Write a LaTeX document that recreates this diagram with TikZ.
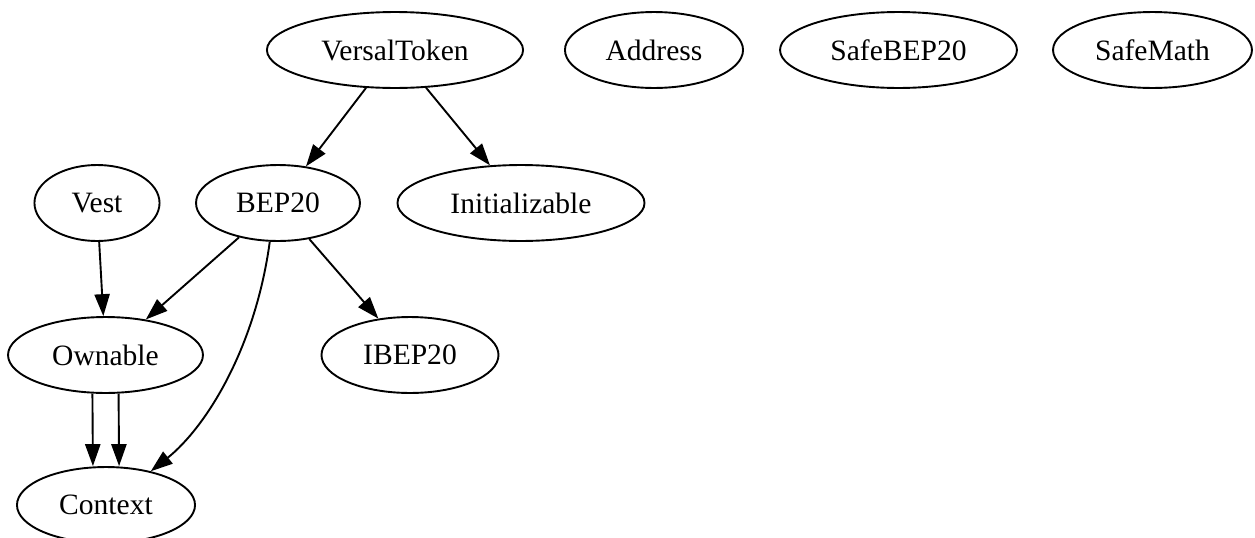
\documentclass[tikz,border=0pt]{standalone}
\usepackage{fontspec}
\setmainfont{Liberation Serif}
\usetikzlibrary{shapes.geometric,arrows.meta}
\begin{document}
\begin{tikzpicture}[x=0.474pt,y=-0.474pt,
  nd/.style={draw,ellipse,line width=0.9pt,inner sep=0pt,minimum height=36pt,
    font=\fontsize{14}{16}\selectfont},
  ed/.style={draw,line width=0.9pt,-{Triangle[length=10.4pt,width=7.2pt]}}]
\useasboundingbox (0,0) rectangle (1255,538);
\node[nd,minimum width=121.4pt] (versal) at (395,50) {VersalToken};
\node[nd,minimum width=84.4pt] (address) at (654,50) {Address};
\node[nd,minimum width=112.3pt] (safebep) at (898.5,50) {SafeBEP20};
\node[nd,minimum width=94.3pt] (safemath) at (1152.5,50) {SafeMath};
\node[nd,minimum width=59.3pt] (vest) at (97,203) {Vest};
\node[nd,minimum width=77.7pt] (bep) at (278,203) {BEP20};
\node[nd,minimum width=117.1pt] (init) at (521,203) {Initializable};
\node[nd,minimum width=92.4pt] (ownable) at (105.5,355) {Ownable};
\node[nd,minimum width=83.9pt] (ibep) at (410,355) {IBEP20};
\node[nd,minimum width=84.4pt] (context) at (106,505) {Context};
\draw[ed] (versal) -- (bep);
\draw[ed] (versal) -- (init);
\draw[ed] (vest) -- (ownable);
\draw[ed] (bep) -- (ownable);
\draw[ed] (bep) -- (ibep);
\draw[ed] (bep.-102) .. controls (255,350) and (205,428) .. (context.37);
\draw[ed] ([xshift=-6.2pt]ownable.south) -- ([xshift=-6.2pt]context.north);
\draw[ed] ([xshift=6.2pt]ownable.south) -- ([xshift=6.2pt]context.north);
\end{tikzpicture}
\end{document}
